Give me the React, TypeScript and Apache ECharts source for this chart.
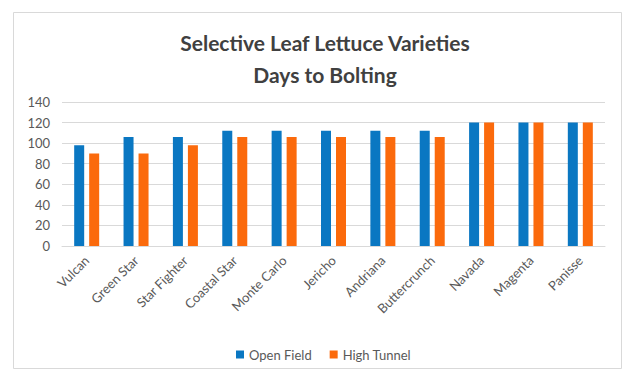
import React, { useEffect, useRef } from "react";
import * as echarts from "echarts";

const categories = [
  "Vulcan",
  "Green Star",
  "Star Fighter",
  "Coastal Star",
  "Monte Carlo",
  "Jericho",
  "Andriana",
  "Buttercrunch",
  "Navada",
  "Magenta",
  "Panisse",
];
const openField = [98, 106, 106, 112, 112, 112, 112, 112, 120, 120, 120];
const highTunnel = [90, 90, 98, 106, 106, 106, 106, 106, 120, 120, 120];
const titleLines = ["Selective Leaf Lettuce Varieties", "Days to Bolting"];

const FONT = "Lato, 'Open Sans', sans-serif";

export default function App() {
  const ref = useRef<HTMLDivElement>(null);
  useEffect(() => {
    if (!ref.current) return;
    const chart = echarts.init(ref.current, undefined, { renderer: "svg" });
    chart.setOption({
      animation: false,
      backgroundColor: "#ffffff",
      textStyle: { fontFamily: FONT },
      graphic: [
        {
          type: "rect",
          shape: { x: 13.5, y: 12.5, width: 608, height: 356 },
          style: { fill: "none", stroke: "#d9d9d9", lineWidth: 1 },
          silent: true,
        },
      ],
      title: {
        text: titleLines.join("\n"),
        left: 320,
        textAlign: "center",
        top: 21,
        textStyle: {
          fontFamily: FONT,
          fontSize: 21,
          fontWeight: "bold",
          color: "#404040",
          lineHeight: 32,
        },
      },
      legend: {
        top: 343,
        left: 231,
        itemWidth: 8,
        itemHeight: 8,
        itemGap: 18,
        icon: "rect",
        textStyle: { fontFamily: FONT, fontSize: 13, color: "#595959" },
        data: ["Open Field", "High Tunnel"],
      },
      grid: { left: 62, right: 20, top: 102, bottom: 126, containLabel: false },
      xAxis: {
        type: "category",
        data: categories,
        axisTick: { show: false },
        axisLine: { lineStyle: { color: "#d9d9d9" } },
        axisLabel: {
          rotate: 45,
          interval: 0,
          margin: 12,
          fontFamily: FONT,
          fontSize: 13,
          color: "#595959",
        },
      },
      yAxis: {
        type: "value",
        min: 0,
        max: 140,
        interval: 20,
        axisLine: { show: false },
        axisTick: { show: false },
        splitLine: { lineStyle: { color: "#d9d9d9" } },
        axisLabel: {
          margin: 12,
          fontFamily: FONT,
          fontSize: 13,
          color: "#595959",
        },
      },
      series: [
        {
          name: "Open Field",
          type: "bar",
          data: openField,
          barWidth: 10,
          barGap: "50%",
          itemStyle: { color: "#0a77c2" },
        },
        {
          name: "High Tunnel",
          type: "bar",
          data: highTunnel,
          barWidth: 10,
          itemStyle: { color: "#fb6a0c" },
        },
      ],
    });
    return () => chart.dispose();
  }, []);
  return (
    <div
      ref={ref}
      style={{ position: "fixed", left: 0, top: 0, width: 625, height: 372 }}
    />
  );
}
